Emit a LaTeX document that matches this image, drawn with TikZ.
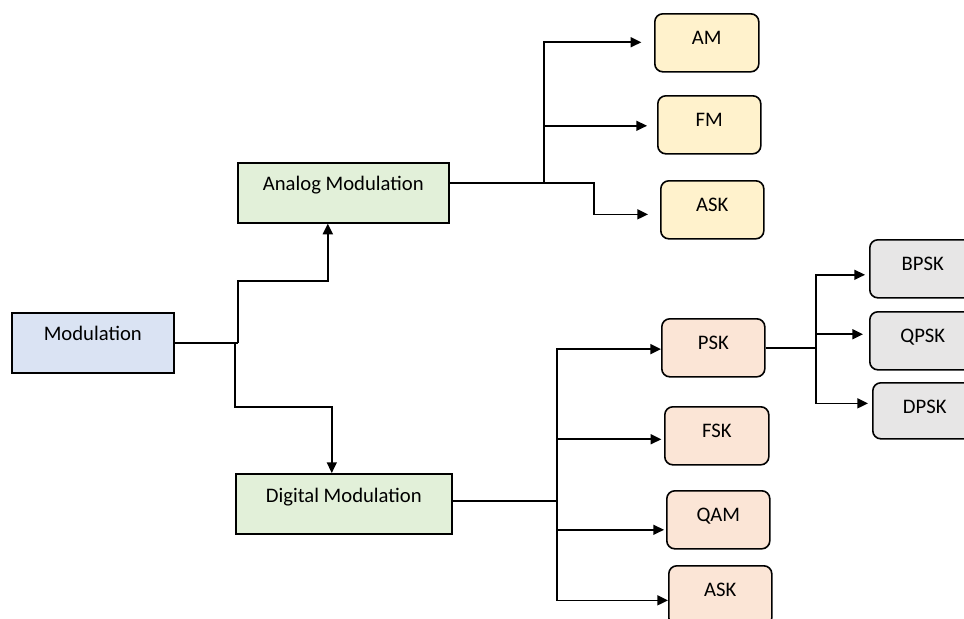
\documentclass[tikz,border=0pt]{standalone}
\usepackage{fontspec}
\setmainfont{Carlito}
\usepackage{tikz}
\usetikzlibrary{arrows.meta}

\definecolor{modblue}{HTML}{DAE3F3}
\definecolor{modgreen}{HTML}{E2F0D9}
\definecolor{modyellow}{HTML}{FFF2CC}
\definecolor{modpeach}{HTML}{FBE5D6}
\definecolor{modgray}{HTML}{E7E6E6}

\tikzset{
  sqbox/.style={draw, line width=1.2pt, inner sep=0pt, anchor=north west,
    text height=21pt, text depth=24pt, font=\fontsize{15.5}{18}\selectfont},
  rdbox/.style={draw, line width=1.2pt, inner sep=0pt, anchor=north west, rounded corners=6pt,
    minimum width=77.25pt, text height=23pt, text depth=20.5pt, font=\fontsize{15.5}{18}\selectfont},
  conn/.style={line width=1.2pt},
  arr/.style={conn, -{Triangle[length=8pt,width=7.5pt]}}
}

\begin{document}
\begin{tikzpicture}[x=0.75pt,y=0.75pt,yscale=-1,xscale=1]
\clip (0,0) rectangle (964,618);

%Shape: Rectangle
\node [sqbox, fill=modblue, minimum width=121.5pt] (mod) at (11,312) {Modulation};
\node [sqbox, fill=modgreen, minimum width=158.25pt] (analog) at (237,162) {Analog Modulation};
\node [sqbox, fill=modgreen, minimum width=162pt, text height=21.75pt, text depth=23.25pt] (digital) at (235,473) {Digital Modulation};

%Shape: Rounded Rect -- analog
\node [rdbox, fill=modyellow, minimum width=78pt] (am) at (654,13) {AM};
\node [rdbox, fill=modyellow] (fm) at (657,95) {FM};
\node [rdbox, fill=modyellow] (askA) at (660,180) {ASK};

%Shape: Rounded Rect -- digital
\node [rdbox, fill=modpeach] (psk) at (661,318) {PSK};
\node [rdbox, fill=modpeach, minimum width=78pt] (fsk) at (664,406) {FSK};
\node [rdbox, fill=modpeach] (qam) at (666,490) {QAM};
\node [rdbox, fill=modpeach, text depth=22pt] (askD) at (668,565) {ASK};

%Shape: Rounded Rect -- psk
\node [rdbox, fill=modgray, minimum width=79.5pt] (bpsk) at (869,239) {BPSK};
\node [rdbox, fill=modgray, minimum width=79.5pt] (qpsk) at (869,311) {QPSK};
\node [rdbox, fill=modgray, minimum width=78pt, text depth=19pt] (dpsk) at (872,382) {DPSK};

%Straight Lines -- junctions
\coordinate (jm) at (238,343);
\coordinate (ja) at (544,183);
\coordinate (jd) at (557,501);
\coordinate (jp) at (816,348);

%Straight Lines -- modulation
\draw [conn] (mod.east |- jm) -- (jm);
\draw [arr] (jm) -- ++(0,-62) -| ([xshift=-11.6pt]analog.south);
\draw [arr] (jm) ++(-3,0) -- ++(0,64) -| ([xshift=-9pt]digital.north);

%Straight Lines -- analog
\draw [conn] (analog.east |- ja) -- (ja);
\draw [arr, shorten >=9.5pt] (ja) |- ([yshift=-0.4pt]am.west);
\draw [arr, shorten >=7.5pt] (ja) |- ([yshift=0.75pt]fm.west);
\draw [arr, shorten >=9pt] (ja) -- ++(50,0) |- ([yshift=3.4pt]askA.west);

%Straight Lines -- digital
\draw [conn] (digital.east |- jd) -- (jd);
\draw [arr] (jd) |- ([yshift=1pt]psk.west);
\draw [arr, shorten >=2pt] (jd) |- ([yshift=2.6pt]fsk.west);
\draw [arr, shorten >=1.5pt] (jd) |- ([yshift=7.5pt]qam.west);
\draw [arr] (jd) |- ([yshift=3.4pt]askD.west);

%Straight Lines -- psk
\draw [conn] (psk.east |- jp) -- (jp);
\draw [arr, shorten >=3pt] (jp) |- ([yshift=4.5pt]bpsk.west);
\draw [arr, shorten >=4.5pt] (jp) |- ([yshift=-4.9pt]qpsk.west);
\draw [arr, shorten >=3pt] (jp) |- ([yshift=-5.6pt]dpsk.west);

\end{tikzpicture}
\end{document}
